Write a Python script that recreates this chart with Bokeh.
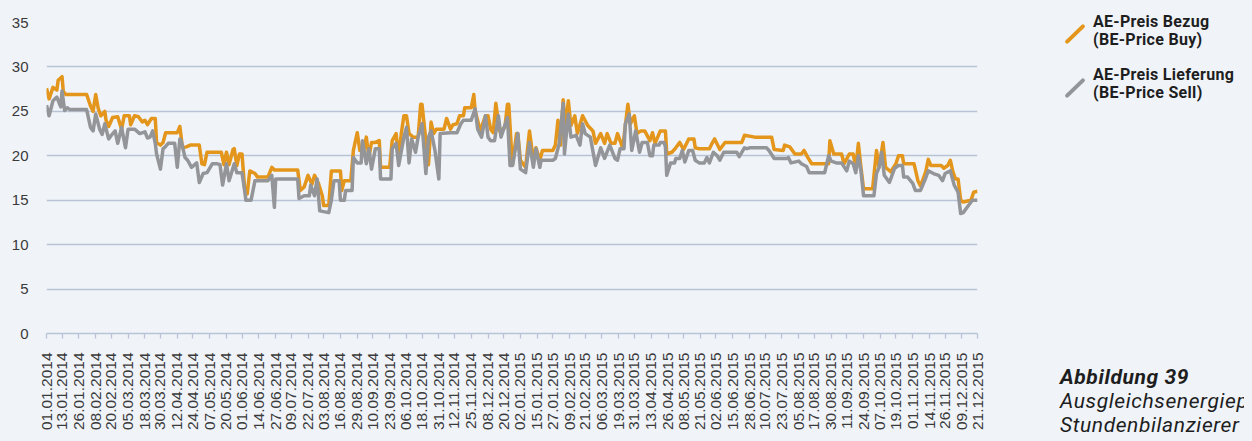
import pandas as pd
from bokeh.plotting import figure
from bokeh.models import Range1d, FixedTicker, Div
from bokeh.layouts import row
from bokeh.embed import file_html
from bokeh.resources import INLINE

# ---------------- data ----------------
tick_labels = [
    "01.01.2014", "13.01.2014", "26.01.2014", "08.02.2014", "20.02.2014", "05.03.2014",
    "18.03.2014", "30.03.2014", "12.04.2014", "24.04.2014", "07.05.2014", "20.05.2014",
    "01.06.2014", "14.06.2014", "27.06.2014", "09.07.2014", "22.07.2014", "03.08.2014",
    "16.08.2014", "29.08.2014", "10.09.2014", "23.09.2014", "06.10.2014", "18.10.2014",
    "31.10.2014", "12.11.2014", "25.11.2014", "08.12.2014", "20.12.2014", "02.01.2015",
    "15.01.2015", "27.01.2015", "09.02.2015", "21.02.2015", "06.03.2015", "19.03.2015",
    "31.03.2015", "13.04.2015", "26.04.2015", "08.05.2015", "21.05.2015", "02.06.2015",
    "15.06.2015", "28.06.2015", "10.07.2015", "23.07.2015", "05.08.2015", "17.08.2015",
    "30.08.2015", "11.09.2015", "24.09.2015", "07.10.2015", "19.10.2015", "01.11.2015",
    "14.11.2015", "26.11.2015", "09.12.2015", "21.12.2015",
]

# days since 01.01.2014
buy_day = [0, 2, 5, 8, 9, 12, 13, 15, 31, 34, 36, 38, 40, 42, 45, 46, 48, 51, 55, 58, 60, 64, 65, 68,
           71, 74, 76, 78, 81, 84, 85, 88, 90, 92, 101, 103, 105, 108, 111, 118, 120, 122, 124, 135,
           137, 139, 141, 144, 145, 147, 149, 151, 153, 155, 157, 161, 163, 171, 174, 176, 194, 196,
           199, 202, 205, 207, 210, 213, 214, 218, 220, 227, 228, 230, 235, 237, 240, 242, 245, 247,
           249, 251, 254, 257, 258, 265, 267, 270, 272, 274, 276, 278, 280, 283, 287, 289, 290, 293,
           295, 297, 299, 301, 307, 309, 312, 314, 317, 319, 322, 323, 328, 330, 331, 335, 339, 341,
           343, 345, 347, 350, 354, 356, 357, 359, 360, 363, 364, 366, 370, 373, 376, 378, 381, 383,
           391, 393, 395, 397, 399, 401, 403, 405, 408, 410, 414, 418, 422, 424, 428, 431, 433, 436,
           439, 441, 445, 449, 451, 454, 456, 459, 462, 466, 468, 470, 474, 478, 479, 483, 486, 489,
           492, 496, 500, 501, 504, 512, 514, 516, 520, 524, 537, 539, 547, 560, 562, 569, 570, 574,
           578, 583, 585, 588, 591, 604, 605, 608, 614, 616, 620, 623, 625, 627, 629, 631, 638, 641,
           643, 646, 648, 652, 656, 658, 661, 662, 670, 673, 675, 679, 681, 683, 691, 693, 696, 698,
           700, 702, 704, 706, 708, 714, 716, 719]
buy_price = [27.6, 26.4, 27.7, 27.4, 28.5, 28.9, 27.2, 26.9, 26.9, 25.6, 25.0, 26.9, 25.3, 24.5, 25.0,
             24.0, 23.3, 24.3, 24.4, 23.0, 24.5, 24.5, 23.5, 24.5, 24.4, 23.8, 24.0, 23.5, 24.2, 24.2,
             21.5, 21.2, 21.5, 22.6, 22.6, 23.3, 20.9, 21.0, 21.2, 21.2, 19.1, 19.0, 20.4, 20.4, 19.0,
             20.4, 19.0, 20.7, 20.8, 18.9, 20.2, 20.2, 16.4, 15.7, 18.3, 18.0, 17.6, 17.6, 18.7, 18.4,
             18.4, 16.1, 16.5, 17.8, 16.8, 17.8, 16.9, 15.5, 14.4, 14.4, 18.3, 18.3, 16.1, 17.2, 17.2,
             20.6, 22.6, 20.6, 20.6, 22.1, 19.8, 21.5, 21.5, 21.7, 18.7, 18.7, 21.7, 22.5, 19.8, 22.5,
             24.5, 24.5, 22.5, 22.1, 22.1, 25.8, 25.8, 21.7, 19.0, 23.8, 22.5, 23.0, 23.0, 24.2, 23.0,
             23.5, 23.6, 24.5, 24.5, 25.4, 25.4, 26.9, 25.1, 22.8, 24.5, 24.5, 23.0, 22.6, 25.9, 22.8,
             23.2, 25.8, 25.8, 20.9, 19.1, 22.5, 22.5, 19.5, 18.7, 22.8, 19.5, 20.9, 19.5, 20.6, 20.6,
             21.2, 24.0, 21.2, 26.3, 23.2, 26.2, 23.4, 24.5, 22.5, 24.5, 23.4, 22.8, 21.4, 22.5, 21.4,
             22.5, 21.4, 21.4, 22.5, 20.9, 25.8, 23.6, 24.5, 22.5, 22.8, 22.8, 21.7, 22.6, 21.4, 22.8,
             22.8, 20.2, 20.4, 20.9, 21.5, 20.7, 21.9, 21.9, 20.9, 20.8, 20.8, 21.4, 21.9, 20.7, 21.5,
             21.5, 22.3, 22.1, 22.1, 20.7, 20.6, 21.2, 21.0, 20.2, 20.2, 20.6, 19.8, 19.1, 19.1, 21.7,
             20.2, 20.2, 19.1, 20.2, 20.2, 18.7, 21.4, 18.7, 16.3, 16.3, 20.6, 18.7, 21.5, 18.7, 18.2,
             19.1, 20.0, 20.0, 19.1, 19.1, 17.2, 16.6, 18.2, 19.6, 18.9, 18.9, 18.6, 18.9, 19.5, 18.2,
             17.4, 17.4, 15.0, 14.8, 15.0, 15.9, 16.0]

sell_day = [0, 2, 5, 8, 11, 12, 14, 16, 18, 31, 34, 36, 38, 41, 43, 45, 48, 50, 53, 55, 58, 61, 63, 68,
            72, 76, 78, 80, 82, 84, 85, 88, 90, 91, 94, 99, 101, 103, 104, 107, 109, 112, 116, 118, 121,
            124, 128, 132, 134, 136, 139, 141, 145, 147, 151, 153, 154, 158, 161, 171, 174, 176, 177,
            194, 195, 199, 203, 204, 207, 209, 211, 218, 220, 222, 226, 227, 230, 231, 236, 237, 240,
            243, 244, 247, 249, 251, 254, 257, 258, 266, 267, 270, 272, 276, 278, 280, 282, 285, 287,
            290, 293, 295, 297, 300, 303, 304, 312, 317, 320, 322, 328, 331, 333, 336, 339, 341, 343,
            346, 349, 351, 356, 358, 360, 364, 366, 370, 373, 376, 378, 381, 382, 391, 393, 396, 399,
            400, 403, 405, 409, 412, 414, 416, 420, 424, 428, 431, 435, 439, 441, 443, 446, 447, 450,
            452, 455, 458, 460, 464, 466, 468, 469, 473, 474, 477, 478, 479, 482, 485, 486, 489, 491,
            493, 496, 499, 501, 504, 508, 510, 512, 515, 518, 520, 523, 533, 535, 539, 541, 543, 556,
            558, 562, 572, 573, 575, 581, 583, 587, 589, 601, 604, 606, 610, 614, 618, 620, 623, 625,
            627, 629, 631, 639, 641, 643, 645, 647, 651, 655, 658, 661, 662, 665, 669, 671, 675, 679,
            681, 685, 689, 692, 694, 698, 701, 704, 706, 708, 711, 715, 719]
sell_price = [25.7, 24.5, 26.2, 26.6, 25.5, 27.3, 25.1, 25.4, 25.2, 25.2, 23.2, 22.8, 24.7, 23.0, 22.4,
              23.6, 21.9, 22.3, 22.8, 21.4, 23.2, 20.9, 23.0, 23.0, 22.5, 22.7, 22.0, 22.1, 22.8, 21.4,
              20.2, 18.5, 20.8, 20.9, 21.4, 21.4, 18.7, 21.9, 21.7, 19.8, 19.5, 18.7, 19.2, 17.0, 18.0,
              18.1, 19.1, 19.1, 19.0, 16.7, 19.1, 17.2, 19.1, 18.1, 18.1, 16.1, 15.0, 15.0, 17.2, 17.2,
              17.8, 14.2, 17.4, 17.4, 15.2, 15.5, 15.5, 16.7, 15.5, 17.4, 13.8, 13.6, 15.0, 17.2, 17.2,
              15.0, 15.0, 16.1, 16.1, 19.8, 19.2, 19.2, 21.7, 19.1, 20.8, 18.5, 20.8, 20.8, 17.4, 17.4,
              20.8, 21.4, 18.9, 22.1, 23.2, 19.2, 21.9, 20.4, 22.1, 23.6, 18.0, 22.1, 22.8, 20.6, 17.4,
              22.5, 22.6, 22.6, 23.6, 24.0, 24.0, 25.3, 23.0, 22.1, 24.5, 22.1, 21.7, 21.7, 24.5, 22.1,
              24.3, 18.9, 18.9, 22.5, 18.5, 18.1, 21.5, 18.7, 20.8, 18.7, 19.5, 19.5, 19.7, 21.4, 25.9,
              20.2, 24.7, 22.1, 22.3, 21.2, 23.6, 22.5, 22.1, 18.9, 20.9, 19.7, 21.2, 19.7, 19.5, 20.8,
              20.8, 23.6, 24.7, 20.6, 22.8, 20.4, 21.5, 21.5, 20.0, 20.0, 21.2, 21.2, 21.5, 21.5, 21.0,
              17.8, 19.2, 19.2, 19.7, 19.7, 20.6, 19.3, 20.6, 20.6, 19.5, 19.2, 19.2, 19.8, 19.2, 20.4,
              20.0, 19.5, 20.4, 20.4, 19.9, 20.9, 20.8, 20.9, 20.9, 20.6, 19.7, 19.7, 19.8, 19.2, 19.4,
              19.1, 18.8, 18.1, 18.1, 20.0, 19.4, 19.2, 19.2, 18.3, 19.4, 19.1, 18.1, 20.0, 18.3, 15.5,
              15.5, 18.0, 18.7, 20.4, 17.8, 17.0, 18.6, 18.9, 18.9, 17.6, 17.6, 16.9, 16.1, 16.1, 17.5,
              18.3, 18.0, 17.8, 17.2, 18.0, 18.3, 16.7, 15.9, 13.5, 13.6, 14.2, 15.0, 15.0]

y_ticks = [0, 5, 10, 15, 20, 25, 30, 35]
legend_titles = ["AE-Preis Bezug", "AE-Preis Lieferung"]
legend_subtitles = ["(BE-Price Buy)", "(BE-Price Sell)"]
caption_lines = ["Abbildung 39", "Ausgleichsenergiepreise", "Stundenbilanzierer"]

# ---------------- styling ----------------
BG = "#F0F4F9"
GRID = "#B9C3D6"
ORANGE = "#E3961B"
GRAY = "#939598"
TXT = "#3A3A3A"

start = pd.Timestamp("2014-01-01")
tick_pos = [int((pd.to_datetime(s, format="%d.%m.%Y") - start).days) for s in tick_labels]

p = figure(width=980, height=425, x_range=Range1d(0, 719), y_range=Range1d(0, 35),
           output_backend="svg", toolbar_location=None,
           min_border_left=33, min_border_right=11, min_border_top=14, min_border_bottom=100)
p.background_fill_color = BG
p.border_fill_color = BG
p.outline_line_color = None

p.line(buy_day, buy_price, line_color=ORANGE, line_width=3.5, line_join="round")
p.line(sell_day, sell_price, line_color=GRAY, line_width=3.5, line_join="round")

p.xgrid.grid_line_color = None
p.ygrid.ticker = FixedTicker(ticks=y_ticks)
p.ygrid.grid_line_color = GRID
p.ygrid.grid_line_width = 1.3

ya = p.yaxis[0]
ya.ticker = FixedTicker(ticks=y_ticks)
ya.axis_line_color = None
ya.major_tick_line_color = None
ya.minor_tick_line_color = None
ya.major_label_standoff = 12
ya.major_label_text_font = "Liberation Sans"
ya.major_label_text_font_size = "15px"
ya.major_label_text_color = TXT

xa = p.xaxis[0]
xa.ticker = FixedTicker(ticks=tick_pos)
xa.major_label_overrides = {tp: lab for tp, lab in zip(tick_pos, tick_labels)}
xa.axis_line_color = GRID
xa.axis_line_width = 1.3
xa.major_tick_line_color = GRID
xa.major_tick_line_width = 1.3
xa.major_tick_in = 0
xa.major_tick_out = 5
xa.minor_tick_line_color = None
xa.major_label_orientation = 1.5707963267948966
xa.major_label_standoff = 14
xa.major_label_text_font = "Liberation Sans"
xa.major_label_text_font_size = "15.5px"
xa.major_label_text_color = TXT

# ---------------- legend / caption panel (HTML) ----------------
def mark(color, top):
    return ('<div style="position:absolute;left:74px;top:%dpx;width:26px;height:4px;'
            'border-radius:2px;background:%s;transform:rotate(-44deg);"></div>' % (top, color))

def legend_text(title, sub, top):
    return ('<div style="position:absolute;left:105px;top:%dpx;font-size:16px;line-height:18px;'
            'letter-spacing:0.3px;font-weight:bold;white-space:nowrap;">%s<br>%s</div>'
            % (top, title, sub))

panel_html = (
    '<div style="position:relative;width:256px;height:425px;overflow:hidden;'
    'font-family:Roboto,\'Liberation Sans\',sans-serif;color:#1E1E1E;">'
    + mark(ORANGE, 24) + legend_text(legend_titles[0], legend_subtitles[0], 5)
    + mark(GRAY, 78) + legend_text(legend_titles[1], legend_subtitles[1], 58)
    + '<div style="position:absolute;left:72px;top:357px;font-size:21px;line-height:24px;'
      'letter-spacing:0.6px;font-style:italic;white-space:nowrap;">'
      '<b>%s</b><br>%s<br>%s</div>' % tuple(caption_lines)
    + '</div>'
)
panel = Div(text=panel_html, width=256, height=425, margin=(0, 0, 0, 0),
            styles={"background-color": BG})

layout = row(p, panel)
html = file_html(layout, INLINE, title="AE-Preise")
css = ("<style>html, body { background-color: %s !important; } "
       "body { margin: 0 !important; padding: 8px !important; box-sizing: border-box !important; }"
       "</style></head>" % BG)
html = html.replace("</head>", css, 1)
open("out.html", "w").write(html)
